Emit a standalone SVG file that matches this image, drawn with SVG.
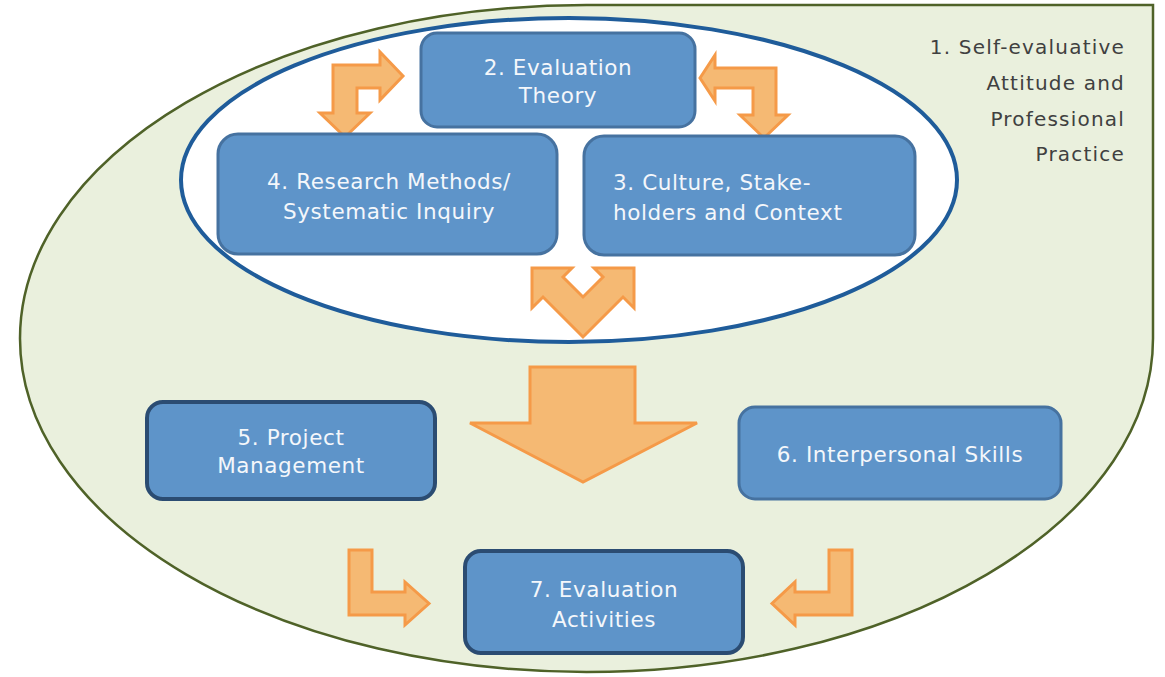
<svg xmlns="http://www.w3.org/2000/svg" width="1165" height="677" viewBox="0 0 1165 677">
  <style>
    .box { fill: #5e94c9; stroke: #4672a0; stroke-width: 3; }
    .box-dark { fill: #5e94c9; stroke: #2b4c72; stroke-width: 4; }
    .lbl { font-family: "DejaVu Sans", "Liberation Sans", sans-serif; font-size: 21.5px; fill: #f4f7fb; letter-spacing: 0.6px; }
    .mid { text-anchor: middle; }
    .outer-lbl { font-family: "DejaVu Sans", "Liberation Sans", sans-serif; font-size: 20px; fill: #404040; text-anchor: end; letter-spacing: 1.2px; }
    .arrow { fill: #f5b973; stroke: #f59a48; stroke-width: 3; stroke-linejoin: miter; }
  </style>
  <rect width="1165" height="677" fill="#ffffff"/>

  <g id="node1">
    <path d="M 20 338.5 A 566.5 333.5 0 0 1 586.5 5 L 1153 5 L 1153 338.5 A 566.5 333.5 0 0 1 586.5 672 A 566.5 333.5 0 0 1 20 338.5 Z" fill="#eaf0dd" stroke="#4f6228" stroke-width="2.5"/>
    <text class="outer-lbl" x="1125" y="54">1. Self-evaluative</text>
    <text class="outer-lbl" x="1125" y="90">Attitude and</text>
    <text class="outer-lbl" x="1125" y="126">Professional</text>
    <text class="outer-lbl" x="1125" y="161">Practice</text>
  </g>

  <g id="core-ellipse">
    <ellipse cx="569" cy="180" rx="388" ry="162" fill="#ffffff" stroke="#1f5c9a" stroke-width="4"/>
  </g>

  <g id="connectors">
    <polygon class="arrow" points="345,137 320,113 333,113 333,65 380,65 380,52 403,76 380,100 380,88 357,88 357,113 370,113"/>
    <polygon class="arrow" points="700,78 715,55 715,68 776,68 776,115 788,115 764,138 740,115 753,115 753,88 715,88 715,101"/>
    <polygon class="arrow" points="583,337 543,297 532,308 532,268 572,268 563,277 583,297 603,277 594,268 634,268 634,308 623,297"/>
    <polygon class="arrow" points="530,367 635,367 635,423 697,423 583,482 470,423 530,423"/>
    <polygon class="arrow" points="349,550 372,550 372,592 405,592 405,582 429,603.5 405,625 405,615 349,615"/>
    <polygon class="arrow" points="852,550 829,550 829,592 795,592 795,582 772,603.5 795,625 795,615 852,615"/>
  </g>

  <g id="node2">
    <rect class="box" x="421" y="33" width="274" height="94" rx="16"/>
    <text class="lbl mid" x="558" y="75">2. Evaluation</text>
    <text class="lbl mid" x="558" y="103">Theory</text>
  </g>

  <g id="node4">
    <rect class="box" x="218" y="134" width="339" height="120" rx="20"/>
    <text class="lbl mid" x="389" y="189">4. Research Methods/</text>
    <text class="lbl mid" x="389" y="219">Systematic Inquiry</text>
  </g>

  <g id="node3">
    <rect class="box" x="584" y="136" width="331" height="119" rx="20"/>
    <text class="lbl" x="613" y="190">3. Culture, Stake-</text>
    <text class="lbl" x="613" y="220">holders and Context</text>
  </g>

  <g id="node5">
    <rect class="box-dark" x="147" y="402" width="288" height="97" rx="16"/>
    <text class="lbl mid" x="291" y="445">5. Project</text>
    <text class="lbl mid" x="291" y="473">Management</text>
  </g>

  <g id="node6">
    <rect class="box" x="739" y="407" width="322" height="92" rx="16"/>
    <text class="lbl mid" x="900" y="462">6. Interpersonal Skills</text>
  </g>

  <g id="node7">
    <rect class="box-dark" x="465" y="551" width="278" height="102" rx="16"/>
    <text class="lbl mid" x="604" y="597">7. Evaluation</text>
    <text class="lbl mid" x="604" y="627">Activities</text>
  </g>
</svg>
